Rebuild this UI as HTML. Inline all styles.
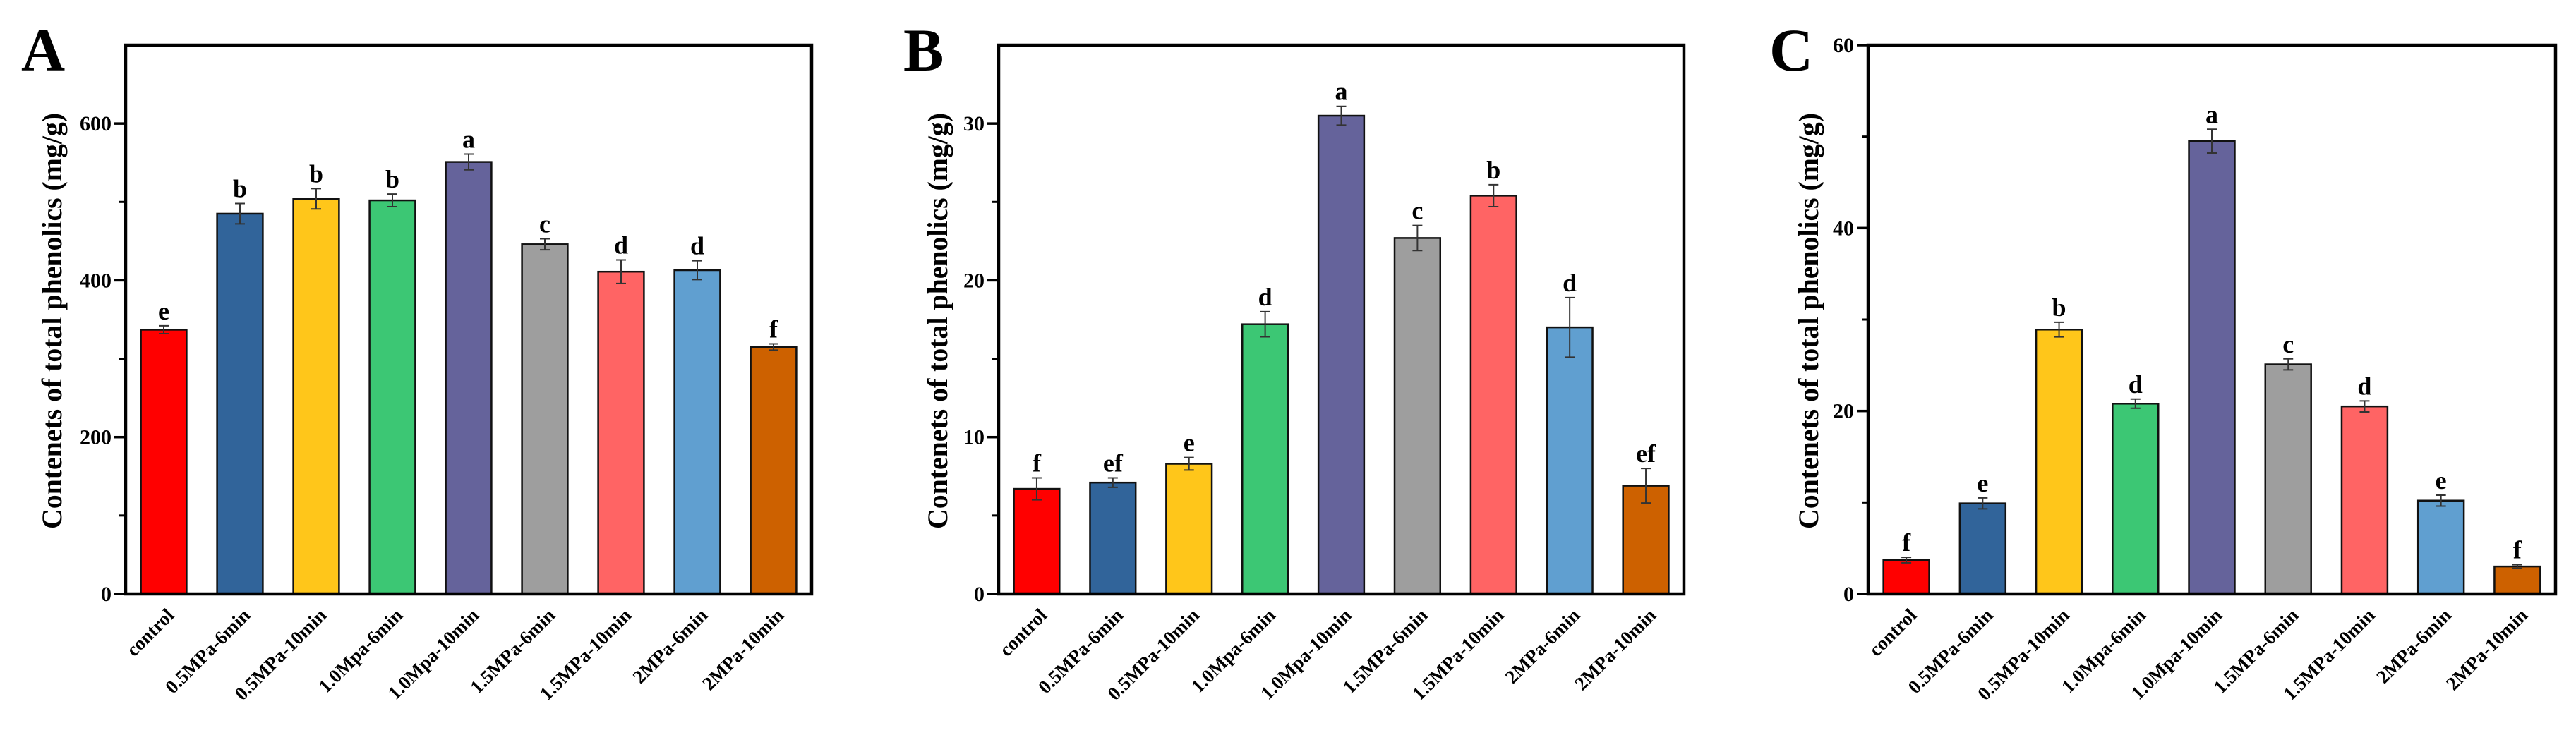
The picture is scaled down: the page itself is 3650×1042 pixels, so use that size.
<!DOCTYPE html>
<html><head><meta charset="utf-8">
<style>
html,body{margin:0;padding:0;background:#fff;}
svg{display:block;}
text{font-family:"Liberation Serif",serif;font-weight:bold;fill:#000;}
</style></head>
<body>
<svg id="chart" width="3650" height="1042" viewBox="0 0 3650 1042" xmlns="http://www.w3.org/2000/svg"></svg>
<script>
const categories = ["control","0.5MPa-6min","0.5MPa-10min","1.0Mpa-6min","1.0Mpa-10min","1.5MPa-6min","1.5MPa-10min","2MPa-6min","2MPa-10min"];
const colors = ["#ff0000","#31649a","#ffc61a","#3cc774","#65639b","#9e9e9e","#ff6464","#609fd0","#cd6100"];
const valuesA = [337,485,504,502,551,446,411,413,315];
const errorsA = [5,13,13,8,10,7,15,12,4];
const lettersA = ["e","b","b","b","a","c","d","d","f"];
const ticksA = [0,200,400,600];
const valuesB = [6.7,7.1,8.3,17.2,30.5,22.7,25.4,17.0,6.9];
const errorsB = [0.7,0.3,0.4,0.8,0.6,0.8,0.7,1.9,1.1];
const lettersB = ["f","ef","e","d","a","c","b","d","ef"];
const ticksB = [0,10,20,30];
const valuesC = [3.7,9.9,28.9,20.8,49.5,25.1,20.5,10.2,3.0];
const errorsC = [0.3,0.6,0.8,0.5,1.3,0.6,0.6,0.6,0.2];
const lettersC = ["f","e","b","d","a","c","d","e","f"];
const ticksC = [0,20,40,60];

const NS = "http://www.w3.org/2000/svg";
const svg = document.getElementById("chart");
function mk(tag, attrs, parent){
  const e = document.createElementNS(NS, tag);
  for (const k in attrs) e.setAttribute(k, attrs[k]);
  (parent||svg).appendChild(e);
  return e;
}

function panel(id, letter, letterX, x0, x1, ymax, minorStep, ticks, values, errors, letters, titleX){
  const y0 = 842, yTop = 64;
  const g = mk("g", {});
  
  
  const ys = v => y0 - (v / ymax) * (y0 - yTop);
  const band = (x1 - x0) / categories.length;
  const xc = i => x0 + band * (i + 0.5);
  const bw = band * 0.6;

  const pl = mk("text", {x: letterX, y: 100, "font-size": 86}, g);
  pl.textContent = letter;
  
  

  // bars
  values.forEach((v, i) => {
    const r = mk("rect", {x: xc(i) - bw/2, y: ys(v), width: bw, height: y0 - ys(v), fill: colors[i], stroke: "#111", "stroke-width": 2.5}, g);
    
    
    const eTop = ys(v + errors[i]), eBot = ys(v - errors[i]);
    const eb = mk("path", {d: `M${xc(i)} ${eTop}V${eBot}M${xc(i)-7} ${eTop}H${xc(i)+7}M${xc(i)-7} ${eBot}H${xc(i)+7}`, stroke: "#333", "stroke-width": 2, fill: "none"}, g);
    
    
    const t = mk("text", {x: xc(i), y: eTop - 9, "font-size": 36, "text-anchor": "middle"}, g);
    t.textContent = letters[i];
    
    
    const xl = mk("text", {x: 0, y: 0, "font-size": 27, "text-anchor": "end", transform: `translate(${xc(i)+16},${y0+32}) rotate(-45)`}, g);
    xl.textContent = categories[i];
    
    
  });

  // frame
  const fr = mk("rect", {x: x0, y: yTop, width: x1 - x0, height: y0 - yTop, fill: "none", stroke: "#000", "stroke-width": 4.5}, g);
  
  

  // minor ticks
  for (let v = minorStep; v < ymax; v += minorStep*2) {
    const m = mk("line", {x1: x0 - 9, x2: x0, y1: ys(v), y2: ys(v), stroke: "#000", "stroke-width": 3}, g);
    
    
  }
  ticks.forEach(v => {
    const tk = mk("line", {x1: x0 - 16, x2: x0, y1: ys(v), y2: ys(v), stroke: "#000", "stroke-width": 3.5}, g);
    
    
    const tl = mk("text", {x: x0 - 20, y: ys(v) + 10, "font-size": 30, "text-anchor": "end"}, g);
    tl.textContent = v;
    
    
  });

  const yt = mk("text", {x: 0, y: 0, "font-size": 40, "text-anchor": "middle", textLength: 590, lengthAdjust: "spacingAndGlyphs", transform: `translate(${titleX},455) rotate(-90)`}, g);
  yt.textContent = "Contenets of total phenolics (mg/g)";
  
  
}

panel("a", "A", 30, 178, 1150, 700, 100, ticksA, valuesA, errorsA, lettersA, 87);
panel("b", "B", 1280, 1415, 2386, 35, 5, ticksB, valuesB, errorsB, lettersB, 1342);
panel("c", "C", 2507, 2647, 3621, 60, 10, ticksC, valuesC, errorsC, lettersC, 2576);
</script>
</body></html>
